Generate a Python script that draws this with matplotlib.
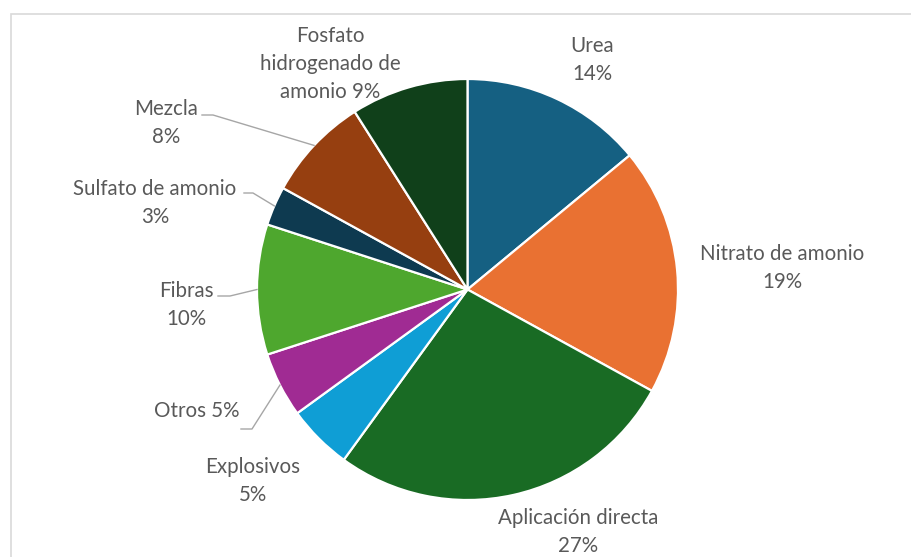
import numpy as np
import matplotlib.pyplot as plt
from matplotlib.patches import Rectangle

# data
categories = ["Urea", "Nitrato de amonio", "Aplicación directa", "Explosivos", "Otros",
              "Fibras", "Sulfato de amonio", "Mezcla", "Fosfato\nhidrogenado de\namonio"]
shares = [14, 19, 27, 5, 5, 10, 3, 8, 9]
colors = ["#156082", "#E97132", "#196B24", "#0F9ED5", "#A02B93",
          "#4EA72E", "#0E3A50", "#963F10", "#10401A"]

W, H = 911, 557
TXT = "#595959"
LEAD = "#A6A6A6"

fig = plt.figure(figsize=(W / 100, H / 100), dpi=100)
ax = fig.add_axes([0, 0, 1, 1])
ax.set_xlim(0, W)
ax.set_ylim(0, H)
ax.axis("off")

def py(y):
    # pixel row (from top) -> axes y
    return H - y

# chart frame (only top and left edges visible in the crop)
ax.add_patch(Rectangle((10.5, -20), 1000, py(14) + 20, fill=False,
                       edgecolor="#D9D9D9", linewidth=1.2))

cx, cy, r = 467.5, py(289.5), 210.5
wedges, _ = ax.pie(shares, colors=colors, startangle=90, counterclock=False,
                   center=(cx, cy), radius=r,
                   wedgeprops=dict(edgecolor="white", linewidth=1.6))
ax.set_xlim(0, W)
ax.set_ylim(0, H)
ax.set_aspect("equal")

# label text: (x center, y center in px from top)
label_pos = {
    "Urea": (592, 60),
    "Nitrato de amonio": (782, 268),
    "Aplicación directa": (578, 532),
    "Explosivos": (253, 481),
    "Otros": (197, 411),
    "Fibras": (186, 305),
    "Sulfato de amonio": (155, 203),
    "Mezcla": (166, 123),
    "Fosfato\nhidrogenado de\namonio": (330, 64),
}
# leader lines: elbow and text-side end (px)
leaders = {
    "Otros": [(252, 429), (241, 429)],
    "Fibras": [(230, 296), (218, 296)],
    "Sulfato de amonio": [(253, 193), (244, 193)],
    "Mezcla": [(213, 115), (202, 115)],
}

for w, name, val in zip(wedges, categories, shares):
    if name == "Otros" or name.startswith("Fosfato"):
        txt = f"{name} {val}%"
    else:
        txt = f"{name}\n{val}%"
    x, y = label_pos[name]
    ax.text(x, py(y), txt, ha="center", va="center", color=TXT,
            fontsize=14.8, family="Lato", linespacing=1.52)
    if name in leaders:
        mid = np.deg2rad((w.theta1 + w.theta2) / 2)
        ex, ey = cx + r * np.cos(mid), cy + r * np.sin(mid)
        pts = [(ex, ey)] + [(px, py(pyy)) for px, pyy in leaders[name]]
        ax.plot([p[0] for p in pts], [p[1] for p in pts], color=LEAD, linewidth=1.0)

fig.savefig("out.png", dpi=100, facecolor="white")
